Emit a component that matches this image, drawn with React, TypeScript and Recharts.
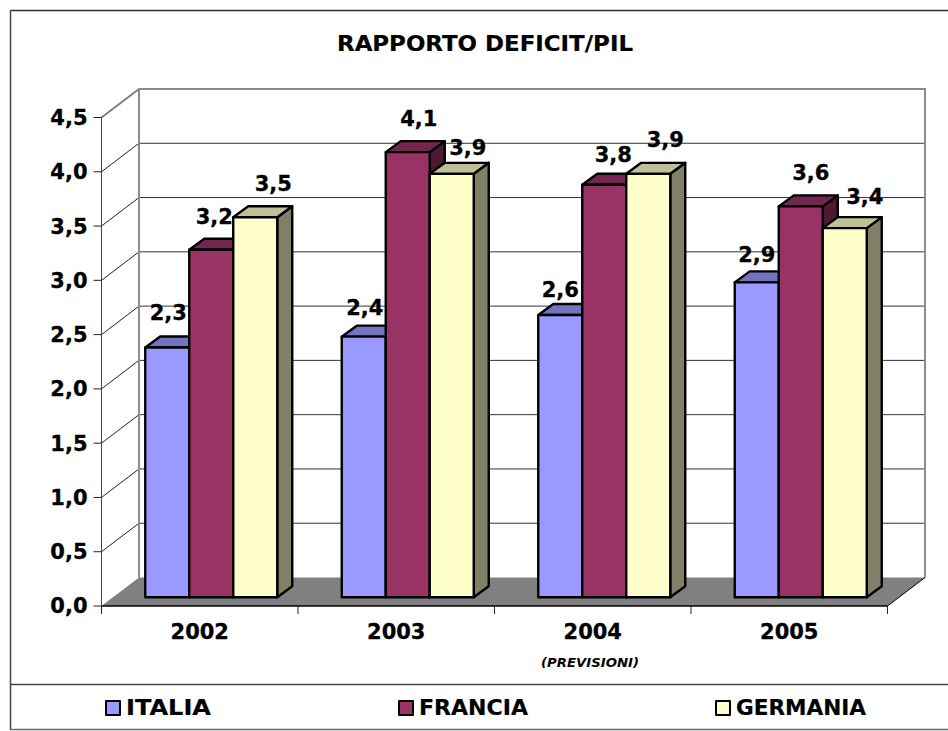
import React from "react";
import { BarChart, Bar, XAxis, YAxis, Legend, LabelList, Customized } from "recharts";

const categories = ["2002", "2003", "2004", "2005"];
const italia = [2.3, 2.4, 2.6, 2.9];
const francia = [3.2, 4.1, 3.8, 3.6];
const germania = [3.5, 3.9, 3.9, 3.4];
const yTicks = [0, 0.5, 1, 1.5, 2, 2.5, 3, 3.5, 4, 4.5];
const seriesNames = ["ITALIA", "FRANCIA", "GERMANIA"];
const titleText = "RAPPORTO DEFICIT/PIL";
const noteText = "(PREVISIONI)";

const data = categories.map((year, i) => ({
  year,
  ITALIA: italia[i],
  FRANCIA: francia[i],
  GERMANIA: germania[i],
}));

const FONT = "'DejaVu Sans', Verdana, sans-serif";
const W = 948;
const H = 731;
const PLOT = { left: 101.5, right: 887.5, top: 117.5, bottom: 606 };
const WALL = { dx: 37.5, dy: -28.5 };
const BAR_SHIFT = { dx: 11.5, dy: -8.8 };
const BAR_DEPTH = { dx: 15, dy: -11 };

const fills = ["#9999FF", "#993366", "#FFFFCC"];
const tops = ["#7373BF", "#732650", "#BFBF99"];
const sides = ["#666699", "#4D1933", "#808066"];

// label offset from the top-centre of each bar's front face [series][category]
const labelNudge = [
  [[1, -35], [1, -29], [0, -25], [0, -28]],
  [[3, -33], [11, -34], [9, -30], [10, -34]],
  [[18, -34], [16, -26], [17, -34], [20, -32]],
];

const makeShape = (s: number) => (props: any) => {
  const { x, y, width, height } = props;
  const l = x + BAR_SHIFT.dx;
  const t = y + BAR_SHIFT.dy;
  const r = l + width;
  const b = t + height;
  const dx = BAR_DEPTH.dx;
  const dy = BAR_DEPTH.dy;
  const common = { stroke: "#000", strokeWidth: 2.4, strokeLinejoin: "round" as const };
  return (
    <g>
      <polygon points={`${r},${t} ${r + dx},${t + dy} ${r + dx},${b + dy} ${r},${b}`} fill={sides[s]} {...common} />
      <polygon points={`${l},${t} ${l + dx},${t + dy} ${r + dx},${t + dy} ${r},${t}`} fill={tops[s]} {...common} />
      <rect x={l} y={t} width={width} height={height} fill={fills[s]} {...common} />
    </g>
  );
};

const makeLabel = (s: number) => (props: any) => {
  const { x, y, width, value, index } = props;
  const [nx, ny] = labelNudge[s][index];
  return (
    <text
      x={x + BAR_SHIFT.dx + width / 2 + nx}
      y={y + BAR_SHIFT.dy + ny + 7.5}
      textAnchor="middle"
      fontFamily={FONT}
      fontWeight="bold"
      fontSize={21}
      fill="#000"
      stroke="#000"
      strokeWidth={0.3}
    >
      {String(value).replace(".", ",")}
    </text>
  );
};

const yOf = (v: number) => PLOT.bottom - (v / 4.5) * (PLOT.bottom - PLOT.top);

const Backdrop = () => {
  const { dx, dy } = WALL;
  const wl = PLOT.left + dx;
  const wr = PLOT.right + dx;
  const band = (PLOT.right - PLOT.left) / categories.length;
  return (
    <g>
      <line x1={10.5} y1={10.5} x2={W} y2={10.5} stroke="#333" strokeWidth={1.5} />
      <line x1={10.5} y1={10} x2={10.5} y2={730} stroke="#444" strokeWidth={1.5} />
      <line x1={10} y1={684.5} x2={W} y2={684.5} stroke="#444" strokeWidth={1.5} />
      <line x1={10} y1={729.5} x2={W} y2={729.5} stroke="#666" strokeWidth={1.5} />
      <text x={485} y={50.5} textAnchor="middle" fontFamily={FONT} fontWeight="bold" fontSize={20.5} fill="#000" stroke="#000" strokeWidth={0.2} textLength={296} lengthAdjust="spacingAndGlyphs">
        {titleText}
      </text>
      <text x={590} y={666.5} textAnchor="middle" fontFamily={FONT} fontWeight="bold" fontStyle="italic" fontSize={12.5} fill="#000" textLength={98} lengthAdjust="spacingAndGlyphs">
        {noteText}
      </text>
      {yTicks.slice(1, -1).map((v) => (
        <g key={v}>
          <line x1={wl} y1={yOf(v) + dy} x2={wr} y2={yOf(v) + dy} stroke="#333" strokeWidth={1} />
          <line x1={PLOT.left} y1={yOf(v)} x2={wl} y2={yOf(v) + dy} stroke="#222" strokeWidth={1} />
        </g>
      ))}
      <polygon
        points={`${PLOT.left},${PLOT.bottom} ${wl},${PLOT.bottom + dy} ${wr},${PLOT.bottom + dy} ${PLOT.right},${PLOT.bottom}`}
        fill="#808080"
      />
      <line x1={PLOT.left} y1={PLOT.top} x2={wl} y2={PLOT.top + dy} stroke="#808080" strokeWidth={2} />
      <polyline
        points={`${wl},${PLOT.bottom + dy} ${wl},${PLOT.top + dy} ${wr},${PLOT.top + dy} ${wr},${PLOT.bottom + dy}`}
        fill="none"
        stroke="#8c8c8c"
        strokeWidth={2}
      />
      <line x1={PLOT.right} y1={PLOT.bottom} x2={wr} y2={PLOT.bottom + dy} stroke="#000" strokeWidth={1} />
      {[0, 1, 2, 3, 4].map((i) => (
        <line key={i} x1={PLOT.left + band * i} y1={PLOT.bottom} x2={PLOT.left + band * i} y2={PLOT.bottom + 8} stroke="#222" strokeWidth={1} />
      ))}
    </g>
  );
};

const legendX = [105, 398, 715];
const legendWidths = [85, 109, 130];
const LegendContent = () => (
  <div style={{ position: "relative", width: W, height: 46 }}>
    {seriesNames.map((name, i) => (
      <div key={name} style={{ position: "absolute", left: legendX[i], top: 7, height: 30, display: "flex", alignItems: "center" }}>
        <span
          style={{
            display: "inline-block",
            width: 12,
            height: 12,
            background: fills[i],
            border: "2px solid #000",
            marginRight: 4,
            borderRadius: 1,
            position: "relative",
            top: 0.5,
          }}
        />
        <svg width={legendWidths[i] + 4} height={30} style={{ display: "block" }}>
          <text x={1} y={23} fontFamily={FONT} fontWeight="bold" fontSize={20.5} fill="#000" stroke="#000" strokeWidth={0.2} textLength={legendWidths[i]} lengthAdjust="spacingAndGlyphs">
            {name}
          </text>
        </svg>
      </div>
    ))}
  </div>
);

const axisTick = { fontFamily: FONT, fontWeight: "bold", fontSize: 21, fill: "#000", stroke: "#000", strokeWidth: 0.3 };

export default function App() {
  return (
    <div style={{ position: "absolute", left: 0, top: 0, width: W, height: H, background: "#fff", overflow: "hidden" }}>
      <BarChart
        width={W}
        height={H}
        data={data}
        barGap={0}
        barCategoryGap={32.25}
        margin={{ left: 0, top: PLOT.top, right: W - PLOT.right, bottom: 0 }}
      >
        <Customized component={Backdrop} />
        <XAxis
          dataKey="year"
          height={H - PLOT.bottom - 46}
          tick={axisTick}
          tickLine={false}
          axisLine={{ stroke: "#000", strokeWidth: 1.5 }}
          tickSize={8}
          tickMargin={10}
          interval={0}
          scale="band"
        />
        <YAxis
          width={PLOT.left}
          domain={[0, 4.5]}
          ticks={yTicks}
          interval={0}
          tick={axisTick}
          tickLine={{ stroke: "#222" }}
          axisLine={{ stroke: "#444" }}
          tickSize={8}
          tickMargin={6}
          tickFormatter={(v: number) => v.toFixed(1).replace(".", ",")}
        />
        <Legend verticalAlign="bottom" content={<LegendContent />} wrapperStyle={{ left: 0, bottom: 0, width: W, height: 46 }} />
        {seriesNames.map((name, s) => (
          <Bar key={name} dataKey={name} fill={fills[s]} isAnimationActive={false} shape={makeShape(s)}>
            <LabelList dataKey={name} content={makeLabel(s)} />
          </Bar>
        ))}
      </BarChart>
    </div>
  );
}
